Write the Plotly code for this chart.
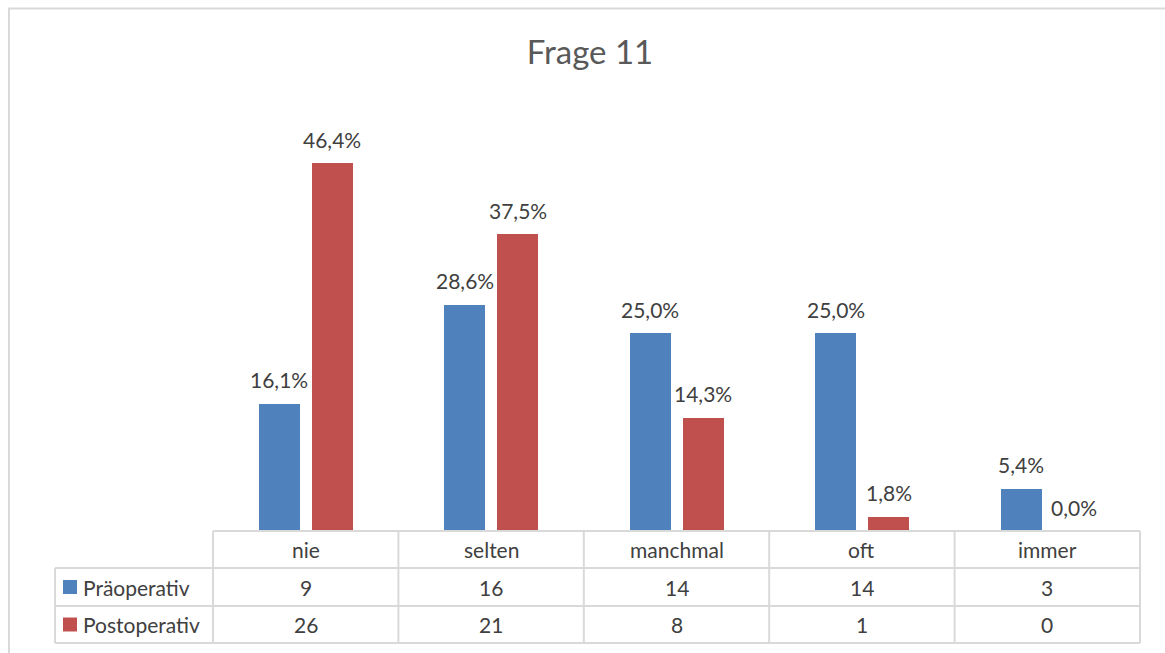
import plotly.graph_objects as go

# Survey answers for question 11, before and after surgery
categories = ["nie", "selten", "manchmal", "oft", "immer"]
series_names = ["Präoperativ", "Postoperativ"]
pre_counts = [9, 16, 14, 14, 3]
post_counts = [26, 21, 8, 1, 0]

colors = ["#4F81BD", "#C0504D"]
text_color = "#404040"
grid_color = "#D9D9D9"
font_family = "Lato, 'Open Sans', sans-serif"
label_size = 21

W, H = 1165, 653
L, R, T, B = 213, 25, 135, 122
plot_w = W - L - R
plot_h = H - T - B


def shares(counts):
    total = sum(counts)
    return [c / total for c in counts]


def fmt(v):
    return f"{v * 100:.1f}".replace(".", ",") + "%"


series_counts = [pre_counts, post_counts]
series_shares = [shares(c) for c in series_counts]

bar_width = 0.221
bar_offsets = [-0.252, 0.034]

fig = go.Figure()
x_idx = list(range(len(categories)))
for name, vals, col, off in zip(series_names, series_shares, colors, bar_offsets):
    fig.add_trace(go.Bar(
        x=x_idx, y=vals, name=name,
        width=bar_width, offset=off,
        marker=dict(color=col, line=dict(width=0)),
        showlegend=False,
        hoverinfo="skip",
    ))

label_font = dict(size=label_size, color=text_color, family=font_family)

annotations = []
# value labels above bars
for vals, off in zip(series_shares, bar_offsets):
    for i, v in enumerate(vals):
        annotations.append(dict(
            x=i + off + bar_width / 2, y=v, xref="x", yref="y",
            text=fmt(v), showarrow=False, xanchor="center", yanchor="middle", yshift=24,
            font=label_font,
        ))


def py(px):
    # pixel row -> paper y
    return (H - B - px) / plot_h


def px_x(px):
    return (px - L) / plot_w


row_lines = [531, 568, 606, 643]
legend_left = px_x(55)
ncat = len(categories)

shapes = []
line = dict(color=grid_color, width=2)
# horizontal table lines
shapes.append(dict(type="line", xref="paper", yref="paper", x0=0, x1=1,
                   y0=py(row_lines[0]), y1=py(row_lines[0]), line=line))
for r in row_lines[1:]:
    shapes.append(dict(type="line", xref="paper", yref="paper", x0=legend_left, x1=1,
                       y0=py(r), y1=py(r), line=line))
# vertical table lines
for k in range(ncat + 1):
    shapes.append(dict(type="line", xref="paper", yref="paper", x0=k / ncat, x1=k / ncat,
                       y0=py(row_lines[0]), y1=py(row_lines[-1]), line=line))
shapes.append(dict(type="line", xref="paper", yref="paper", x0=legend_left, x1=legend_left,
                   y0=py(row_lines[1]), y1=py(row_lines[-1]), line=line))

# category header row
hdr_y = py((row_lines[0] + row_lines[1]) / 2)
for i, c in enumerate(categories):
    annotations.append(dict(
        x=(i + 0.5) / ncat, y=hdr_y, xref="paper", yref="paper", text=c,
        xanchor="center", yanchor="middle", showarrow=False, font=label_font,
    ))

# series rows with legend keys and counts
for s, (name, counts, col) in enumerate(zip(series_names, series_counts, colors)):
    yc_px = (row_lines[s + 1] + row_lines[s + 2]) / 2
    yc = py(yc_px)
    shapes.append(dict(type="rect", xref="paper", yref="paper",
                       x0=px_x(63), x1=px_x(77), y0=py(yc_px + 7), y1=py(yc_px - 7),
                       fillcolor=col, line=dict(width=0)))
    annotations.append(dict(
        x=px_x(81), y=yc, xref="paper", yref="paper", text=name,
        xanchor="left", yanchor="middle", showarrow=False, font=label_font,
    ))
    for i, n in enumerate(counts):
        annotations.append(dict(
            x=(i + 0.5) / ncat, y=yc, xref="paper", yref="paper", text=str(n),
            xanchor="center", yanchor="middle", showarrow=False, font=label_font,
        ))

# chart area border
shapes.append(dict(type="rect", xref="paper", yref="paper",
                   x0=px_x(9), x1=px_x(1175), y0=py(8.5), y1=py(665),
                   line=dict(color=grid_color, width=2), fillcolor="rgba(0,0,0,0)",
                   layer="below"))

fig.update_layout(
    width=W, height=H,
    margin=dict(l=L, r=R, t=T, b=B),
    paper_bgcolor="white", plot_bgcolor="white",
    title=dict(text="Frage 11", x=590 / W, xref="container", xanchor="center",
               y=1 - 52 / H, yref="container", yanchor="middle",
               font=dict(size=33, color="#595959", family=font_family)),
    xaxis=dict(range=[-0.5, ncat - 0.5], showticklabels=False, showgrid=False,
               zeroline=False, showline=False, ticks="", fixedrange=True),
    yaxis=dict(range=[0, 0.5], showticklabels=False, showgrid=False,
               zeroline=False, showline=False, ticks="", fixedrange=True),
    shapes=shapes,
    annotations=annotations,
    bargap=0, barmode="overlay",
)

fig.write_html("out.html")
